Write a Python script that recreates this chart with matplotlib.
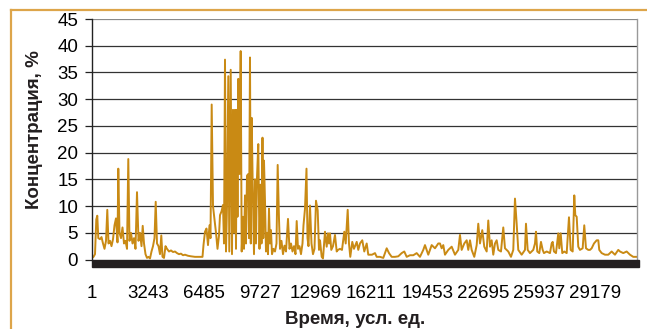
import matplotlib
matplotlib.use("Agg")
import matplotlib.pyplot as plt
from matplotlib.patches import Rectangle
from matplotlib.lines import Line2D

# time points (conditional units) and concentration (%)
time = [
    1, 88, 175, 250, 308, 366, 465, 552, 639, 726, 813, 888, 958, 1045, 1132, 1219,
    1306, 1393, 1480, 1526, 1596, 1683, 1770, 1857, 1944, 2031, 2106, 2176, 2263, 2350,
    2437, 2524, 2611, 2698, 2785, 2872, 2942, 3017, 3104, 3191, 3278, 3365, 3452, 3539,
    3626, 3696, 3771, 3858, 3945, 4020, 4090, 4177, 4264, 4351, 4467, 4583, 4699, 4815,
    4931, 5047, 5163, 5279, 5395, 5569, 5743, 5975, 6207, 6410, 6468, 6555, 6642, 6729,
    6816, 6874, 6943, 7019, 7106, 7193, 7280, 7367, 7425, 7512, 7599, 7657, 7715, 7773,
    7831, 7906, 7964, 8046, 8121, 8179, 8237, 8295, 8353, 8399, 8440, 8486, 8556, 8625,
    8683, 8759, 8817, 8875, 8933, 8991, 9066, 9107, 9165, 9211, 9264, 9322, 9397, 9455,
    9513, 9571, 9646, 9716, 9774, 9832, 9890, 9936, 9977, 10035, 10093, 10151, 10209,
    10267, 10325, 10383, 10441, 10528, 10615, 10702, 10771, 10847, 10905, 10992, 11079,
    11166, 11253, 11369, 11456, 11543, 11630, 11717, 11804, 11874, 11949, 12036, 12123,
    12210, 12268, 12355, 12442, 12500, 12558, 12645, 12732, 12819, 12906, 12993, 13092,
    13167, 13225, 13324, 13399, 13515, 13614, 13689, 13747, 13805, 13880, 13979, 14095,
    14194, 14269, 14385, 14501, 14635, 14716, 14832, 14907, 14982, 15098, 15197, 15354,
    15446, 15545, 15678, 15794, 15934, 16026, 16241, 16415, 16514, 16705, 16896, 17094,
    17227, 17383, 17575, 17766, 17963, 18114, 18254, 18445, 18636, 18833, 19025, 19216,
    19315, 19506, 19703, 19895, 20086, 20185, 20283, 20376, 20475, 20666, 20863, 21055,
    21246, 21345, 21443, 21594, 21734, 21826, 21925, 22023, 22174, 22314, 22406, 22505,
    22638, 22754, 22894, 22986, 23085, 23183, 23276, 23375, 23473, 23566, 23723, 23856,
    23955, 24146, 24303, 24436, 24535, 24633, 24726, 24923, 25115, 25173, 25271, 25405,
    25596, 25695, 25753, 25828, 25944, 26043, 26141, 26217, 26374, 26565, 26663, 26721,
    26797, 26913, 27046, 27104, 27186, 27278, 27394, 27534, 27667, 27766, 27882, 27975,
    28033, 28114, 28206, 28305, 28461, 28554, 28653, 28786, 28885, 28983, 29117, 29274,
    29366, 29424, 29563, 29755, 29946, 30143, 30335, 30526, 30625, 30816, 31013, 31205,
    31395, 31593,
]
conc = [
    0.3, 0.5, 1.0, 7.5, 8.2, 4.0, 3.8, 4.2, 3.0, 2.0, 3.5, 9.3, 3.0, 3.5, 2.5, 3.8,
    6.4, 7.7, 3.2, 17.0, 5.0, 4.0, 6.0, 3.0, 3.5, 2.0, 18.8, 3.5, 5.0, 3.0,
    4.0, 2.0, 12.6, 3.5, 5.0, 2.5, 6.3, 3.0, 1.0, 0.3, 0.5, 0.2, 1.5, 2.5,
    4.0, 10.8, 3.0, 2.5, 1.0, 4.5, 0.5, 0.3, 2.5, 2.0, 1.5, 1.7, 1.4, 1.5,
    1.2, 1.0, 1.1, 0.8, 0.9, 0.7, 0.6, 0.5, 0.5, 0.5, 2.7, 5.2, 5.8, 2.7,
    6.4, 4.0, 29.0, 10.0, 7.5, 5.0, 2.0, 4.5, 8.3, 9.0, 10.2, 3.0, 37.4, 1.5,
    10.0, 34.3, 1.5, 35.5, 1.0, 28.0, 5.0, 28.0, 2.0, 28.0, 8.0, 33.8, 16.0, 39.0,
    1.5, 8.0, 2.0, 12.0, 3.0, 15.7, 16.0, 4.0, 37.8, 3.0, 26.5, 14.0, 1.0, 15.0,
    3.0, 15.4, 21.6, 2.0, 14.0, 3.0, 22.8, 4.0, 18.5, 11.0, 1.5, 5.0, 1.0,
    9.5, 3.0, 5.5, 1.0, 2.0, 1.5, 3.0, 17.7, 7.6, 2.0, 3.5, 1.0,
    2.6, 1.5, 7.6, 2.0, 3.0, 1.5, 2.5, 1.0, 7.2, 2.0, 2.5, 1.0,
    3.0, 6.4, 9.5, 17.0, 4.0, 2.5, 10.1, 3.0, 1.0, 2.0, 11.0, 9.2,
    1.8, 3.6, 0.5, 0.2, 5.2, 2.4, 4.9, 3.0, 4.9, 1.8, 2.5, 4.6,
    1.5, 1.8, 2.0, 1.8, 5.2, 3.0, 9.3, 3.0, 0.5, 3.3, 2.0, 3.3,
    1.8, 3.0, 3.6, 1.5, 3.0, 0.9, 0.9, 1.2, 0.5, 0.5, 0.3, 2.1,
    1.2, 0.5, 0.5, 0.6, 1.2, 1.5, 0.5, 0.8, 0.8, 1.2, 0.5, 1.8,
    2.7, 0.9, 2.7, 2.1, 3.0, 3.0, 2.1, 2.7, 0.9, 1.8, 2.4, 0.9,
    1.8, 4.6, 1.8, 3.0, 3.6, 1.8, 3.6, 1.8, 0.5, 2.7, 6.7, 3.0,
    5.5, 2.4, 1.5, 7.3, 2.4, 3.6, 0.9, 3.0, 3.6, 1.8, 1.5, 6.0,
    2.1, 1.5, 0.5, 1.8, 11.4, 6.7, 1.8, 0.9, 1.8, 6.7, 1.8, 1.2,
    1.8, 3.0, 5.2, 1.5, 1.2, 3.3, 1.8, 1.2, 1.5, 1.2, 3.0, 3.3,
    1.5, 1.2, 4.9, 2.1, 4.9, 1.2, 1.5, 1.2, 7.9, 1.8, 1.5, 12.0,
    8.3, 8.0, 2.4, 1.8, 2.1, 6.4, 2.1, 1.8, 1.8, 2.1, 3.0, 3.6,
    3.6, 1.8, 1.2, 0.9, 0.9, 1.5, 0.9, 1.8, 1.5, 1.2, 1.5, 0.9,
    0.5, 0.5,
]
xtick_vals = [1, 3243, 6485, 9727, 12969, 16211, 19453, 22695, 25937, 29179]
ytick_vals = [0, 5, 10, 15, 20, 25, 30, 35, 40, 45]
xlabel = "Время, усл. ед."
ylabel = "Концентрация, %"

plt.rcParams['font.family'] = ['Liberation Sans', 'DejaVu Sans']

fig = plt.figure(figsize=(6.47, 3.29), dpi=100)
ax = fig.add_axes([0.1422, 0.2112, 0.8423, 0.731])

# orange frame around the whole figure
frame_col = '#DDA54A'
fig.add_artist(Line2D([11/647, 1.0], [1 - 10/329] * 2, color=frame_col, lw=1.6))
fig.add_artist(Line2D([11/647] * 2, [0.0, 1 - 10/329], color=frame_col, lw=1.6))

for y in ytick_vals[1:]:
    ax.axhline(y, color='#8a8a8a' if y == 45 else '#333333', lw=0.9, zorder=1)

ax.plot(time, conc, color='#C98A14', lw=1.4, zorder=2)

# dense category tick marks render as a solid black band under the axis
ax.add_patch(Rectangle((0, -0.033), 1.004, 0.033, transform=ax.transAxes,
                       color='#231F20', clip_on=False, zorder=3))

ax.set_xlim(1, 31611)
ax.set_ylim(0, 45)
ax.set_yticks(ytick_vals)
ax.set_xticks(xtick_vals)
ax.set_xticklabels([str(v) for v in xtick_vals])
ax.tick_params(axis='y', length=5, width=0.9, pad=5, labelsize=13.5, color='#222222')
ax.tick_params(axis='x', length=0, pad=18, labelsize=13.5)

for s in ['top', 'bottom']:
    ax.spines[s].set_visible(False)
ax.spines['left'].set_color('#222222')
ax.spines['left'].set_linewidth(1.0)
ax.spines['right'].set_color('#999999')
ax.spines['right'].set_linewidth(1.0)

fig.text(355 / 647, 1 - 320 / 329, xlabel, ha='center', va='center',
         fontsize=13.5, fontweight='bold', color='#231F20')
fig.text(35 / 647, 1 - 130 / 329, ylabel, ha='center', va='center',
         rotation=90, fontsize=13.5, fontweight='bold', color='#231F20')

fig.savefig('out.png', dpi=100)
